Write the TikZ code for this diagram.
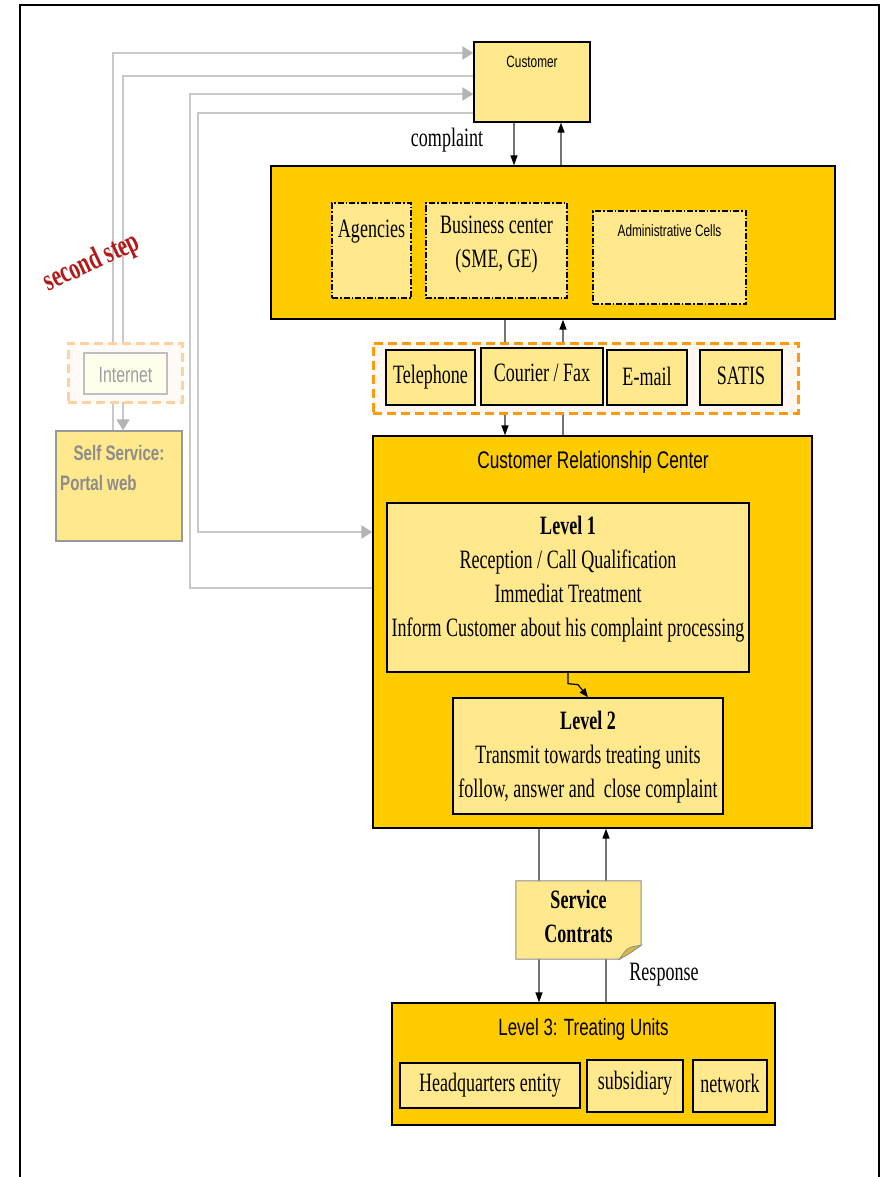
\documentclass[tikz,border=0pt]{standalone}
\usepackage{fontspec}
\setmainfont{Liberation Serif}[FakeStretch=0.68]
\setsansfont{Liberation Sans}[FakeStretch=0.72]
\usetikzlibrary{arrows.meta,backgrounds,calc}

\definecolor{gold}{HTML}{FFCC00}
\definecolor{pale}{HTML}{FFE98C}
\definecolor{chan}{HTML}{FF9A10}
\definecolor{chanlight}{HTML}{FFD0A0}
\definecolor{faint}{HTML}{C8C8C8}
\definecolor{greytext}{HTML}{8C8C8C}
\definecolor{folded}{HTML}{D8B840}
\definecolor{wordred}{HTML}{B41818}

\begin{document}
\begin{tikzpicture}[x=1pt,y=-1pt,
  box/.style={draw=black, line width=1.3pt, rectangle, inner sep=0pt},
  big/.style={box, fill=gold},
  soft/.style={box, fill=pale},
  cell/.style={draw=black, line width=1.3pt, fill=pale, inner sep=0pt,
               dash pattern=on 6pt off 2pt on 1.5pt off 2pt},
  rm/.style={font=\fontsize{26.5}{34}\selectfont, align=center, inner sep=0pt},
  rmbold/.style={font=\bfseries\fontsize{26.5}{34}\selectfont, align=center, inner sep=0pt},
  sf/.style={font=\sffamily\fontsize{#1}{#1}\selectfont, inner sep=0pt},
  sfbold/.style={font=\sffamily\bfseries\fontsize{#1}{#1}\selectfont, inner sep=0pt},
  flow/.style={draw=black!55, line width=1.3pt},
  flowtip/.style={flow, -{Triangle[length=10pt,width=7pt,color=black]}},
  web/.style={draw=faint, line width=2pt},
  webtip/.style={web, -{Triangle[length=11pt,width=13pt,color=faint!90!black]}}
]
\useasboundingbox (0,0) rectangle (883,1177);

% page frame
\draw[line width=1.5pt] (20,1177) -- (20,5) -- (879,5) -- (879,1177);

% customer
\node[soft, minimum width=116pt, minimum height=80pt] (cust) at (532,82) {};
\node[sf=16.4] (custtxt) at (532,62) {Customer};

% front office
\node[big, minimum width=564pt, minimum height=153pt] (front) at (553,242.5) {};
\node[cell, minimum width=79pt, minimum height=95pt] (agency) at (371.5,250.5) {};
\node[rm] (agencytxt) at (371.5,232) {Agencies};
\node[cell, minimum width=141pt, minimum height=95pt] (business) at (496.5,250.5) {};
\node[rm] (businesstxt) at (496.5,245) {Business center\\(SME, GE)};
\node[cell, minimum width=153pt, minimum height=93pt] (admin) at (669.5,257.5) {};
\node[sf=16.4] (admintxt) at (669.5,231) {Administrative Cells};

% channels
\node[draw=chan, line width=3pt, dash pattern=on 9pt off 5pt, fill=orange!6,
      minimum width=425pt, minimum height=70pt, inner sep=0pt] (channels) at (585.5,378) {};
\node[soft, minimum width=89pt, minimum height=55pt] (tel) at (430.5,377.5) {};
\node[rm] (teltxt) at (430.5,377) {Telephone};
\node[soft, minimum width=122pt, minimum height=57pt] (courier) at (542,376.5) {};
\node[rm] (couriertxt) at (542,373) {Courier / Fax};
\node[soft, minimum width=80pt, minimum height=55pt] (email) at (647,377.5) {};
\node[rm] (emailtxt) at (647,376) {E-mail};
\node[soft, minimum width=82pt, minimum height=55pt] (satis) at (741,377.5) {};
\node[rm] (satistxt) at (741,376) {SATIS};

% customer relationship center
\node[big, minimum width=439pt, minimum height=392pt] (crc) at (592.5,632) {};
\node[sf=24] (crctxt) at (593,462) {Customer Relationship Center};
\node[soft, minimum width=362pt, minimum height=169pt] (lvl1) at (568,587.5) {};
\node[rm] (lvl1txt) at (568,579) {\textbf{Level 1}\\Reception / Call Qualification\\Immediat Treatment\\Inform Customer about his complaint processing};
\node[soft, minimum width=270pt, minimum height=116pt] (lvl2) at (588,756) {};
\node[rm] (lvl2txt) at (588,757) {\textbf{Level 2}\\Transmit towards treating units\\follow, answer and\ \ close complaint};

% service contracts note
\node[minimum width=125pt, minimum height=78pt, inner sep=0pt] (svc) at (578.5,920) {};
\filldraw[fill=pale, draw=black!45, line width=1pt]
  (svc.north west) -- (svc.north east) -- ([yshift=14pt]svc.south east)
  -- ([xshift=-22pt]svc.south east) -- (svc.south west) -- cycle;
\filldraw[fill=folded, draw=black!45, line width=0.8pt]
  ([yshift=14pt]svc.south east) .. controls ([xshift=-12pt,yshift=12pt]svc.south east)
  .. ([xshift=-16pt,yshift=8pt]svc.south east) -- ([xshift=-22pt]svc.south east)
  .. controls ([xshift=-14pt,yshift=4pt]svc.south east) .. cycle;
\node[rmbold] (svctxt) at (578.5,916) {Service\\Contrats};

% level 3
\node[big, minimum width=383pt, minimum height=122pt] (lvl3) at (583.5,1064) {};
\node[sf=23.5] (lvl3txt) at (583.5,1029) {Level 3: Treating Units};
\node[soft, minimum width=180pt, minimum height=45pt] (hq) at (490,1085.5) {};
\node[rm] (hqtxt) at (490,1085) {Headquarters entity};
\node[soft, minimum width=96pt, minimum height=52pt] (sub) at (635,1086) {};
\node[rm] (subtxt) at (635,1083) {subsidiary};
\node[soft, minimum width=74pt, minimum height=52pt] (net) at (730,1086) {};
\node[rm] (nettxt) at (730,1083) {network};

% internet / self service
\node[draw=chanlight, line width=3pt, dash pattern=on 9pt off 5pt, fill=orange!4,
      minimum width=114pt, minimum height=59pt, inner sep=0pt] (inetzone) at (125,372.5) {};
\node[draw=black!25, line width=1.2pt, fill=yellow!8, minimum width=83pt,
      minimum height=41pt, inner sep=0pt] (inet) at (125.5,373.5) {};
\node[sf=22, text=black!38] (inettxt) at (125.5,375) {Internet};
\node[draw=black!40, line width=1.3pt, fill=pale, minimum width=126pt,
      minimum height=110pt, inner sep=0pt] (self) at (119,486) {};
\node[sfbold=21, text=greytext] (selftxt) at (119,453) {Self Service:};
\node[sfbold=21, text=greytext, anchor=west] (portal) at (60,483) {Portal web};

% labels
\node[rm] (complaint) at (447,140) {complaint};
\node[rm] (response) at (664,975) {Response};
\node[font=\bfseries\fontsize{31}{31}\selectfont, text=wordred, rotate=25] (steptxt) at (92,263) {second step};

% x and y positions of the connector runs
\coordinate (xa) at (514,0);
\coordinate (xb) at (561,0);
\coordinate (xc) at (505,0);
\coordinate (xd) at (563,0);
\coordinate (xe) at (539,0);
\coordinate (xf) at (606,0);
\coordinate (ya) at (568,0);
\coordinate (yb) at (588,0);
\coordinate (ga) at (113,53);
\coordinate (gb) at (123,76);
\coordinate (gc) at (190,588);
\coordinate (gcc) at (190,94);
\coordinate (gd) at (198,113);
\coordinate (gdd) at (198,532);

\begin{pgfonlayer}{background}
  % customer <-> front office
  \draw[flowtip] (cust.south -| xa) -- (front.north -| xa);
  \draw[flowtip] (front.north -| xb) -- (cust.south -| xb);
  % front office <-> relationship center through the channels
  \draw[flowtip] (front.south -| xc) -- (crc.north -| xc);
  \draw[flowtip] (crc.north -| xd) -- (front.south -| xd);
  % relationship center <-> treating units through the contracts
  \draw[flow] (crc.south -| xe) -- (svc.north -| xe);
  \draw[flowtip] (svc.south -| xe) -- (lvl3.north -| xe);
  \draw[flowtip] (lvl3.north -| xf) -- (crc.south -| xf);
  % self service and second step links
  \draw[webtip] (self.north -| ga) |- (cust.west |- ga);
  \draw[webtip] (cust.west |- gb) -| (self.north -| gb);
  \draw[webtip] (crc.west |- gc) -| (gcc) -- (cust.west |- gcc);
  \draw[webtip] (cust.west |- gd) -- (gd) |- (crc.west |- gdd);
\end{pgfonlayer}

% level 1 -> level 2
\draw[line width=1.2pt, -{Triangle[length=9pt,width=7pt]}]
  (lvl1.south -| ya) -- ++(0,11) -- ++(10,1) -- (lvl2.north -| yb);

\end{tikzpicture}
\end{document}
